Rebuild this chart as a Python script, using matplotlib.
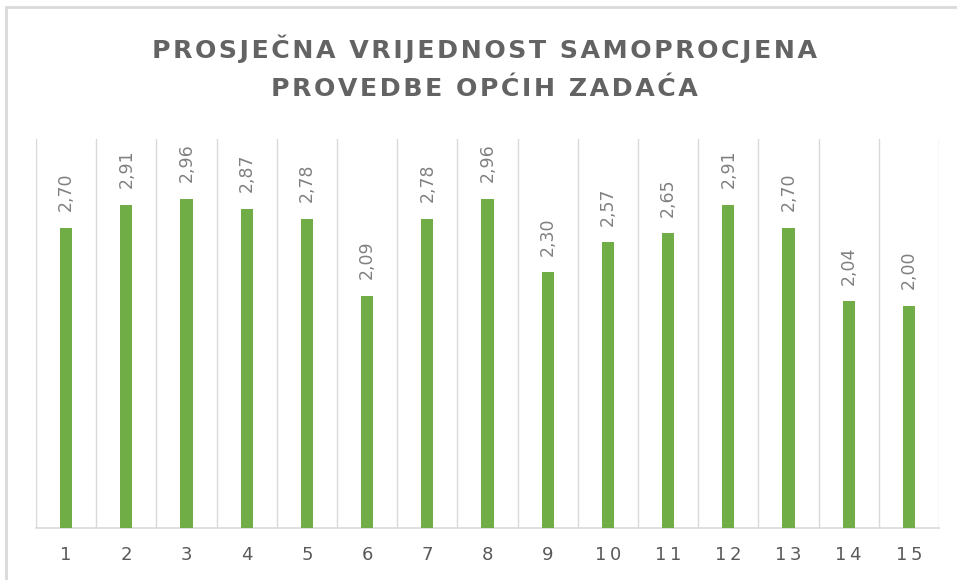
import matplotlib
matplotlib.use("Agg")
import matplotlib.pyplot as plt
from matplotlib.patches import Rectangle
import numpy as np

# data
categories = [str(i) for i in range(1, 16)]
values = [2.70, 2.91, 2.96, 2.87, 2.78, 2.09, 2.78, 2.96, 2.30, 2.57, 2.65, 2.91, 2.70, 2.04, 2.00]
title_lines = ["PROSJEČNA VRIJEDNOST SAMOPROCJENA", "PROVEDBE OPĆIH ZADAĆA"]

W, H = 957, 580
fig = plt.figure(figsize=(W / 100, H / 100), dpi=100)
fig.patch.set_facecolor("white")

# outer chart border (only left and top visible in the crop)
fig.patches.append(Rectangle((6 / W, -0.1), 1.2, (H - 7) / H + 0.1, transform=fig.transFigure,
                             fill=False, edgecolor="#D9D9D9", linewidth=2))

ax = fig.add_axes([36 / W, (H - 528) / H, (939 - 36) / W, (528 - 139) / H])
x = np.arange(1, len(values) + 1)
ax.bar(x, values, width=0.2, color="#70AD47", zorder=3)
ax.set_xlim(0.5, len(values) + 0.5)
ax.set_ylim(0, 3.5)

for xi, v in zip(x, values):
    ax.annotate(f"{v:.2f}".replace(".", ","), (xi, v), xytext=(0, 12), textcoords="offset points",
                rotation=90, ha="center", va="bottom", fontsize=12.5, color="#808080")

ax.set_xticks(x)
ax.set_xticklabels(["\u2009".join(c) for c in categories], fontsize=13, color="#595959")
ax.set_xticks(np.arange(0.5, len(values) + 1, 1), minor=True)
ax.tick_params(axis="x", which="both", length=0, pad=13)
ax.set_yticks([])
ax.grid(which="minor", axis="x", color="#D9D9D9", linewidth=1, zorder=0)
for s in ["top", "right", "left"]:
    ax.spines[s].set_visible(False)
ax.spines["bottom"].set_color("#D9D9D9")
ax.spines["bottom"].set_linewidth(1.2)

# letter-spaced title, like the Excel chart title
spaced = ["\u200a".join(line) for line in title_lines]
fig.text(484 / W, 1 - 49 / H, spaced[0], ha="center", va="center", fontsize=18.2,
         fontweight="bold", color="#636363")
fig.text(484 / W, 1 - 89 / H, spaced[1], ha="center", va="center", fontsize=18.2,
         fontweight="bold", color="#636363")

plt.savefig("out.png", dpi=100)
plt.close()
